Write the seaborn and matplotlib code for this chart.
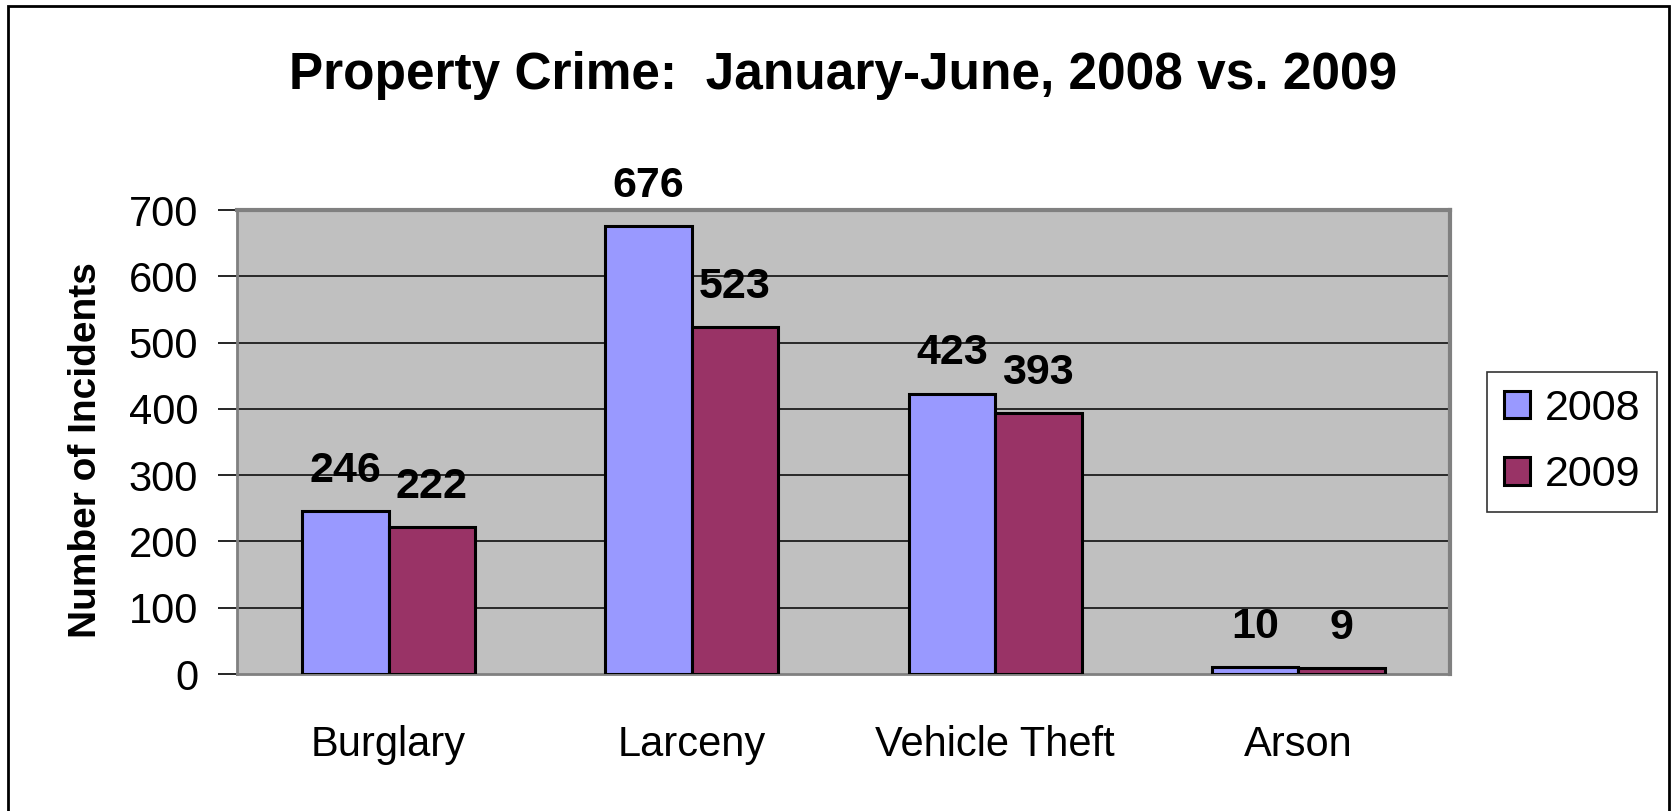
import matplotlib
matplotlib.use('Agg')
import matplotlib.pyplot as plt
import matplotlib.patches as mpatches
import seaborn as sns
import pandas as pd

categories = ['Burglary', 'Larceny', 'Vehicle Theft', 'Arson']
years = ['2008', '2009']
counts_2008 = [246, 676, 423, 10]
counts_2009 = [222, 523, 393, 9]
y_ticks = [0, 100, 200, 300, 400, 500, 600, 700]

df = pd.DataFrame({
    'crime': categories * 2,
    'year': ['2008'] * 4 + ['2009'] * 4,
    'count': counts_2008 + counts_2009,
})

sns.set_style('white')
plt.rcParams['font.family'] = ['Liberation Sans', 'DejaVu Sans']
plt.rcParams['text.color'] = 'black'
plt.rcParams['axes.labelcolor'] = 'black'
plt.rcParams['xtick.color'] = 'black'
plt.rcParams['ytick.color'] = 'black'

W, H = 1671, 811
fig = plt.figure(figsize=(W / 100, H / 100), dpi=100)
ax = fig.add_axes([237 / W, (H - 674) / H, (1450 - 237) / W, (674 - 210) / H])
ax.set_facecolor('#C0C0C0')

palette = {'2008': '#9999FF', '2009': '#993366'}
sns.barplot(data=df, x='crime', y='count', hue='year', order=categories,
            hue_order=years, palette=palette, width=0.57, gap=0,
            edgecolor='black', linewidth=2.2, saturation=1, errorbar=None,
            ax=ax, zorder=3)

ax.set_xlim(-0.5, 3.5)
ax.set_ylim(0, 700)
ax.set_yticks(y_ticks)
ax.set_yticklabels([str(t) for t in y_ticks], fontsize=30)
for t in y_ticks[1:-1]:
    ax.axhline(t, color='black', lw=1.1, zorder=1)

# category boundaries get tick marks, names sit in the middle
ax.set_xticks([-0.5, 0.5, 1.5, 2.5, 3.5])
ax.set_xticklabels([])
ax.set_xticks(range(4), minor=True)
ax.set_xticklabels(categories, minor=True, fontsize=30)
ax.tick_params(axis='x', which='major', length=12, width=1.2, color='#808080', direction='out')
ax.tick_params(axis='x', which='minor', length=0, pad=37)
ax.tick_params(axis='y', length=14, width=1.2, color='black', direction='out', pad=14, left=True)
ax.set_xlabel('')
ax.set_ylabel('')

for s in ['top', 'right']:
    ax.spines[s].set_color('#808080')
    ax.spines[s].set_linewidth(3)
ax.spines['left'].set_color('#808080')
ax.spines['left'].set_linewidth(2)
ax.spines['bottom'].set_color('#808080')
ax.spines['bottom'].set_linewidth(2)

for cont in ax.containers:
    for bar in cont:
        h = bar.get_height()
        ax.annotate(f'{int(h)}', (bar.get_x() + bar.get_width() / 2, h),
                    xytext=(0, 21), textcoords='offset points',
                    ha='center', va='baseline', fontsize=31, fontweight='bold',
                    annotation_clip=False, zorder=5)

ax.get_legend().remove()
handles = [mpatches.Patch(facecolor=palette[y], edgecolor='black', linewidth=2.2, label=y) for y in years]
leg = fig.legend(handles=handles, loc='center', bbox_to_anchor=(1572 / W, 1 - 442 / H),
                 fontsize=31, frameon=True, fancybox=False, edgecolor='black',
                 handlelength=0.6, handleheight=0.6, handletextpad=0.35,
                 labelspacing=0.62, borderpad=0.38, borderaxespad=0)
leg.get_frame().set_linewidth(1.2)

fig.text(843 / W, 1 - 75 / H, 'Property Crime:  January-June, 2008 vs. 2009',
         ha='center', va='center', fontsize=37, fontweight='bold')
fig.text(86 / W, 1 - 450 / H, 'Number of Incidents', rotation=90,
         ha='center', va='center', fontsize=28, fontweight='bold')

# outer chart border (bottom edge is cut off in the original)
border = mpatches.Rectangle((8 / W, -0.05), (1669 - 8) / W, 1.05 - 6 / H,
                            transform=fig.transFigure, fill=False,
                            edgecolor='black', linewidth=2, clip_on=False)
fig.patches.append(border)

fig.savefig('out.png', dpi=100)
